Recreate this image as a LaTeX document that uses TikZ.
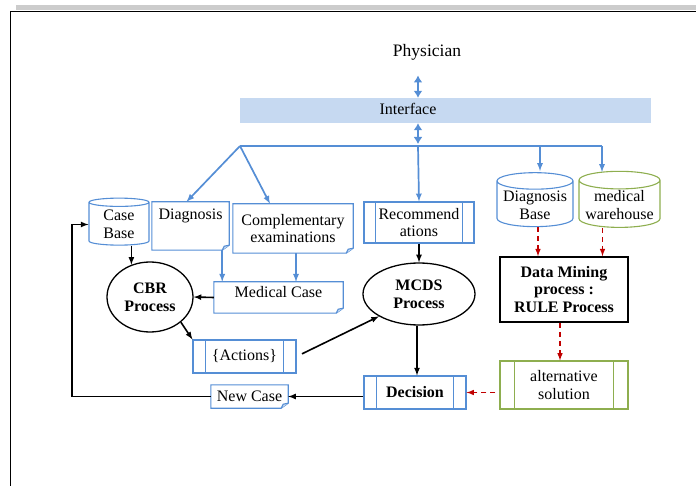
\documentclass[tikz,border=0pt]{standalone}
\usepackage{fontspec}
\setmainfont{Liberation Serif}
\usetikzlibrary{shapes.geometric, arrows, arrows.meta, positioning, calc}
\definecolor{mcds_blue}{HTML}{558ED5}
\colorlet{docblue}{mcds_blue}
\definecolor{mcds_band}{HTML}{C6D9F1}
\definecolor{mcds_green}{HTML}{8EAE4F}
\definecolor{mcds_red}{HTML}{C00000}
\newcommand\diagfont{\fontsize{16}{17.8}\selectfont}
\tikzset{
  store/.style={cylinder,shape border rotate=90,aspect=0.25,draw=#1,line width=1.1pt,align=center,inner sep=1pt},
  store/.default=docblue,
  doc/.style={rectangle,align=center,inner sep=2pt,
    append after command={\pgfextra{
      \draw[docblue,line width=1.1pt] (\tikzlastnode.north west) -- (\tikzlastnode.north east)
        -- ([yshift=5pt]\tikzlastnode.south east) -- ([xshift=-7pt]\tikzlastnode.south east)
        -- (\tikzlastnode.south west) -- cycle;
      \draw[docblue,line width=1.1pt,fill=docblue!30] ([xshift=-7pt]\tikzlastnode.south east)
        -- ([xshift=-5pt,yshift=4pt]\tikzlastnode.south east) -- ([yshift=5pt]\tikzlastnode.south east);}}},
  subproc/.style 2 args={rectangle,draw=#1,line width=1.1pt,align=center,inner sep=2pt,
    append after command={\pgfextra{
      \draw[#1,line width=1.1pt] ([xshift=#2]\tikzlastnode.north west) -- ([xshift=#2]\tikzlastnode.south west)
        ([xshift=-#2]\tikzlastnode.north east) -- ([xshift=-#2]\tikzlastnode.south east);}}},
  proc/.style={ellipse,draw=black,line width=1.3pt,font=\diagfont\bfseries,align=center,inner sep=0pt},
  rulebox/.style={rectangle,draw=black,line width=1.6pt,font=\diagfont\bfseries,align=center},
  flow/.style={line width=1.6pt,-latex,black},
  bus/.style={line width=1.7pt,docblue},
  busflow/.style={bus,-latex},
  link/.style={docblue,line width=2.4pt,{Latex[length=7pt,width=9pt]}-{Latex[length=7pt,width=9pt]}},
  mine/.style={line width=1.5pt,-latex,mcds_red,dash pattern=on 5pt off 4pt},
}

\begin{document}
\begin{tikzpicture}[x=1pt,y=-1pt,font=\diagfont]
  \useasboundingbox (0,0) rectangle (696,486);
  % page frame
  \fill[gray!40] (16,5) rectangle (696,10);
  \draw[line width=1.8pt] (10.5,486) -- (10.5,11.5) -- (696,11.5);

  \node (phys) at (427,52) {\fontsize{17.5}{20}\selectfont Physician};
  \node[fill=mcds_band,minimum width=411pt,minimum height=25pt,inner sep=0pt] (iface) at (445.5,110.5) {};
  \node (iftext) at (408,109) {Interface};
  \coordinate (hub) at (418,146);
  \coordinate (busL) at (240,146);
  \coordinate (busR) at (602,146);

  % sources
  \node[store,minimum width=60pt,minimum height=47pt] (cb) at (119,224.5) {Case\\Base};
  \node[doc,minimum width=77pt,minimum height=48pt] (diag) at (190.5,226) {Diagnosis\\[6pt]\mbox{}};
  \node[doc,minimum width=120pt,minimum height=49pt] (compl) at (293,228.5) {Complementary\\examinations};
  \node[subproc={docblue}{12pt},minimum width=110pt,minimum height=41pt] (rec) at (419,222.5) {Recommend\\ations};
  \node[store,minimum width=76pt,minimum height=48pt] (dbase) at (535,205) {Diagnosis\\Base};
  \node[store=mcds_green,minimum width=81pt,minimum height=48pt] (wh) at (619.5,205) {medical\\warehouse};

  % processes
  \node[proc,minimum width=86pt,minimum height=70pt] (cbr) at (150,297) {CBR\\Process};
  \node[doc,minimum width=129pt,minimum height=31pt] (medc) at (278.5,297.5) {Medical Case\\[-6pt]\mbox{}};
  \node[subproc={docblue}{13pt},minimum width=103pt,minimum height=33pt] (act) at (244.5,356.5) {\{Actions\}};
  \node[doc,minimum width=77pt,minimum height=23pt,inner sep=1pt] (newc) at (249.5,396.5) {New Case};
  \node[proc,minimum width=112pt,minimum height=62pt] (mcds) at (419,294) {MCDS\\Process};
  \node[subproc={docblue}{13pt},minimum width=102pt,minimum height=33pt,font=\diagfont\bfseries] (dec) at (415,392.5) {Decision};
  \node[rulebox,minimum width=128pt,minimum height=65pt] (dm) at (564,289.5) {Data Mining\\process :\\RULE Process};
  \node[subproc={mcds_green}{15pt},minimum width=128pt,minimum height=48pt] (alt) at (564,385) {alternative\\solution};
  \coordinate (loopx) at (72,300);
  \coordinate (dbtip) at (540,171);
  \coordinate (whtip) at (602,172);

  % physician / interface
  \draw[link] ([yshift=-12pt]phys.south -| hub) -- (iface.north -| hub);
  \draw[link] (iface.south -| hub) -- ([yshift=2pt]hub);
  \draw[bus] (busL) -- (busR);
  \draw[busflow] (busL) -- ([xshift=-4pt]diag.north);
  \draw[busflow] (busL) -- ([xshift=-23pt]compl.north);
  \draw[busflow] (hub) -- (rec.north);
  \draw[busflow] (busL -| dbtip) -- (dbtip);
  \draw[busflow] (busR) -- (whtip);
  \draw[busflow] ([xshift=-7pt]diag.south east) -- ([xshift=-7pt]diag.south east |- medc.north);
  \draw[busflow] ([xshift=3pt]compl.south) -- ([xshift=3pt]compl.south |- medc.north);

  % case based reasoning
  \draw[flow] (cb.south -| cbr.120) -- (cbr.120);
  \draw[flow] (medc.west) -- (cbr.east);
  \draw[flow] (cbr.south east) -- (act.north west);
  \draw[flow,shorten <=6pt] (act.east) -- (mcds.south west);
  \draw[flow] (rec.south) -- (mcds.north);
  \draw[flow] ([xshift=-2pt]mcds.south) -- ([xshift=-2pt]mcds.south |- dec.north);
  \draw[flow] (newc.east -| dec.west) -- (newc.east);
  \draw[flow] (newc.west) -| (loopx) |- (cb.west);

  % data mining
  \draw[mine] ([xshift=3pt]dbase.south) -- ([xshift=3pt]dbase.south |- dm.north);
  \draw[mine] ([xshift=-17pt]wh.south) -- ([xshift=-17pt]wh.south |- dm.north);
  \draw[mine] ([xshift=-4pt]dm.south) -- ([xshift=-4pt]dm.south |- alt.north);
  \draw[mine] ([xshift=-4pt]alt.west |- dec.east) -- (dec.east);
\end{tikzpicture}
\end{document}
